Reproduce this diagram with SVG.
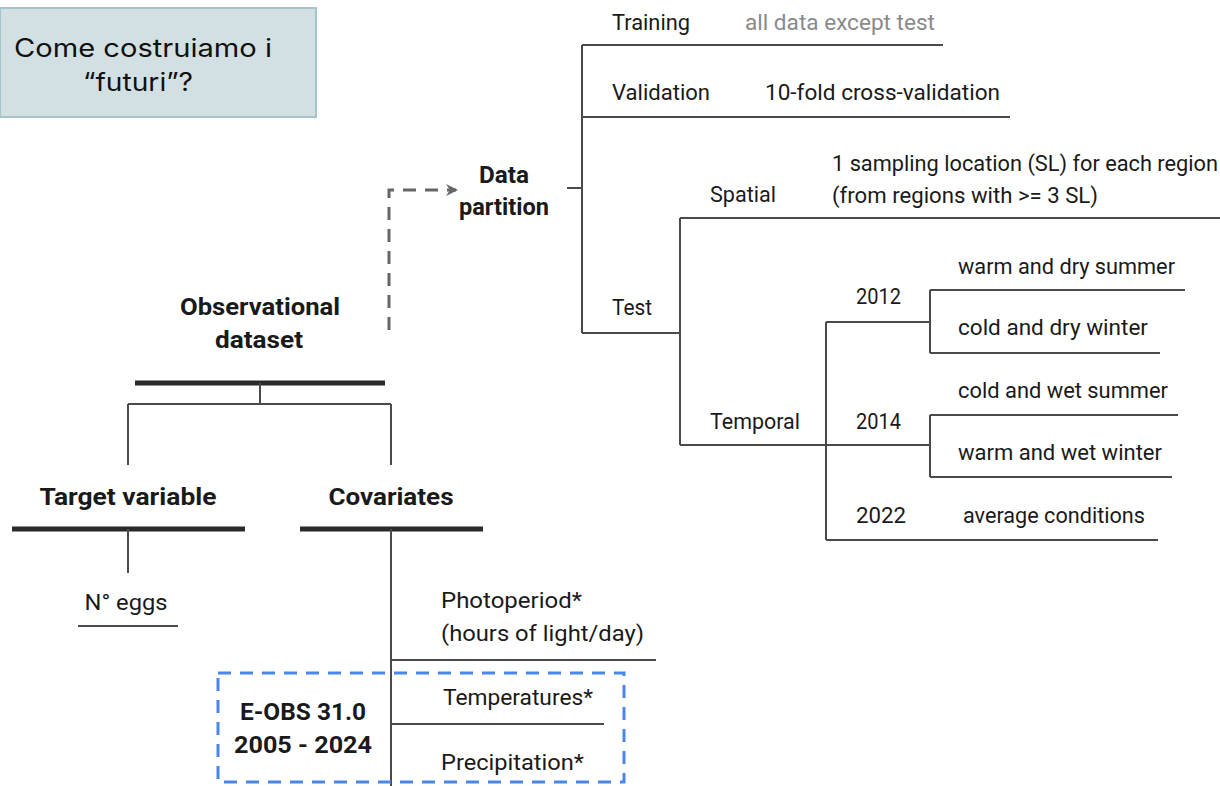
<svg xmlns="http://www.w3.org/2000/svg" width="1220" height="786" viewBox="0 0 1220 786">
<style>
text{font-family:Roboto,"Liberation Sans",sans-serif;fill:#1a1a1a}
.t{font-size:22px}
.g{font-size:22px;fill:#8a8a8a}
.b{font-size:24px;font-weight:bold}
.title{font-family:Inter,"Liberation Sans",sans-serif;font-size:25px;font-weight:400;fill:#111}
.ln{stroke:#4a4a4a;stroke-width:2;fill:none}
.thick{stroke:#2a2a2a;stroke-width:5;fill:none}
.dash{stroke:#666;stroke-width:3;fill:none;stroke-dasharray:13 9}
.blue{stroke:#4a86e8;stroke-width:3;fill:none;stroke-dasharray:13 9}
</style>
<defs>
<marker id="arr" viewBox="0 0 12 12" refX="10" refY="6" markerWidth="12" markerHeight="12" markerUnits="userSpaceOnUse" orient="auto">
<path d="M0,0 L12,6 L0,12 L4,6 Z" fill="#666"/>
</marker>
</defs>
<rect width="1220" height="786" fill="#fff"/>

<g id="title">
<rect x="0" y="8" width="316" height="109" fill="#d3e0e3" stroke="#a6c4cc" stroke-width="2"/>
<text class="title" x="143" y="57" text-anchor="middle" textLength="258" lengthAdjust="spacingAndGlyphs">Come costruiamo i</text>
<text class="title" x="138" y="91" text-anchor="middle" textLength="110" lengthAdjust="spacingAndGlyphs">“futuri”?</text>
</g>

<g id="connectors">
<path class="dash" d="M389,330 V190 H456" marker-end="url(#arr)"/>
<path class="ln" d="M567,188 H582 M582,45 V333 M582,45 H943 M582,117 H1010 M582,333 H680"/>
<path class="ln" d="M680,218 V445 M680,218 H1220 M680,445 H826"/>
<path class="ln" d="M826,322 V540 M826,322 H930 M826,445 H930 M826,540 H1158"/>
<path class="ln" d="M930,290 V353 M930,290 H1185 M930,353 H1160"/>
<path class="ln" d="M930,415 V477 M930,415 H1178 M930,477 H1172"/>
<path class="thick" d="M135,383 H385 M12,529 H245 M300,529 H483"/>
<path class="ln" d="M260,383 V404 M128,404 H391 M128,404 V465 M391,404 V465"/>
<path class="ln" d="M128,529 V573 M78,626 H178"/>
<path class="ln" d="M391,529 V786 M391,660 H656 M391,724 H604"/>
</g>

<g id="data-partition">
<text class="b" x="504" y="183" text-anchor="middle" textLength="50" lengthAdjust="spacingAndGlyphs">Data</text>
<text class="b" x="504" y="215" text-anchor="middle" textLength="90" lengthAdjust="spacingAndGlyphs">partition</text>
</g>
<g id="training">
<text class="t" x="612" y="30" textLength="78" lengthAdjust="spacingAndGlyphs">Training</text>
<text class="g" x="745" y="30" textLength="190" lengthAdjust="spacingAndGlyphs">all data except test</text>
</g>
<g id="validation">
<text class="t" x="612" y="100" textLength="98" lengthAdjust="spacingAndGlyphs">Validation</text>
<text class="t" x="765" y="100" textLength="235" lengthAdjust="spacingAndGlyphs">10-fold cross-validation</text>
</g>
<g id="test">
<text class="t" x="612" y="315" textLength="40" lengthAdjust="spacingAndGlyphs">Test</text>
</g>
<g id="spatial">
<text class="t" x="710" y="202" textLength="66" lengthAdjust="spacingAndGlyphs">Spatial</text>
<text class="t" x="832" y="171" textLength="386" lengthAdjust="spacingAndGlyphs">1 sampling location (SL) for each region</text>
<text class="t" x="832" y="203" textLength="266" lengthAdjust="spacingAndGlyphs">(from regions with &gt;= 3 SL)</text>
</g>
<g id="temporal">
<text class="t" x="710" y="429" textLength="90" lengthAdjust="spacingAndGlyphs">Temporal</text>
</g>
<g id="y2012">
<text class="t" x="856" y="304" textLength="45" lengthAdjust="spacingAndGlyphs">2012</text>
<text class="t" x="958" y="274" textLength="217" lengthAdjust="spacingAndGlyphs">warm and dry summer</text>
<text class="t" x="958" y="335" textLength="190" lengthAdjust="spacingAndGlyphs">cold and dry winter</text>
</g>
<g id="y2014">
<text class="t" x="856" y="429" textLength="45" lengthAdjust="spacingAndGlyphs">2014</text>
<text class="t" x="958" y="398" textLength="210" lengthAdjust="spacingAndGlyphs">cold and wet summer</text>
<text class="t" x="958" y="460" textLength="204" lengthAdjust="spacingAndGlyphs">warm and wet winter</text>
</g>
<g id="y2022">
<text class="t" x="856" y="523" textLength="50" lengthAdjust="spacingAndGlyphs">2022</text>
<text class="t" x="963" y="523" textLength="182" lengthAdjust="spacingAndGlyphs">average conditions</text>
</g>

<g id="observational">
<text class="b" x="260" y="315" text-anchor="middle" textLength="160" lengthAdjust="spacingAndGlyphs">Observational</text>
<text class="b" x="259" y="348" text-anchor="middle" textLength="88" lengthAdjust="spacingAndGlyphs">dataset</text>
</g>
<g id="target">
<text class="b" x="128" y="505" text-anchor="middle" textLength="177" lengthAdjust="spacingAndGlyphs">Target variable</text>
</g>
<g id="eggs">
<text class="t" x="126" y="610" text-anchor="middle" textLength="83" lengthAdjust="spacingAndGlyphs">N° eggs</text>
</g>
<g id="covariates">
<text class="b" x="391" y="505" text-anchor="middle" textLength="125" lengthAdjust="spacingAndGlyphs">Covariates</text>
</g>
<g id="photoperiod">
<text class="t" x="441" y="608" textLength="141" lengthAdjust="spacingAndGlyphs">Photoperiod*</text>
<text class="t" x="441" y="641" textLength="203" lengthAdjust="spacingAndGlyphs">(hours of light/day)</text>
</g>
<g id="eobs">
<rect class="blue" x="218" y="673" width="406" height="109"/>
<text class="b" x="303" y="720" text-anchor="middle" textLength="126" lengthAdjust="spacingAndGlyphs">E-OBS 31.0</text>
<text class="b" x="303" y="753" text-anchor="middle" textLength="138" lengthAdjust="spacingAndGlyphs">2005 - 2024</text>
<text class="t" x="443" y="705" textLength="150" lengthAdjust="spacingAndGlyphs">Temperatures*</text>
<text class="t" x="441" y="770" textLength="143" lengthAdjust="spacingAndGlyphs">Precipitation*</text>
</g>
</svg>
